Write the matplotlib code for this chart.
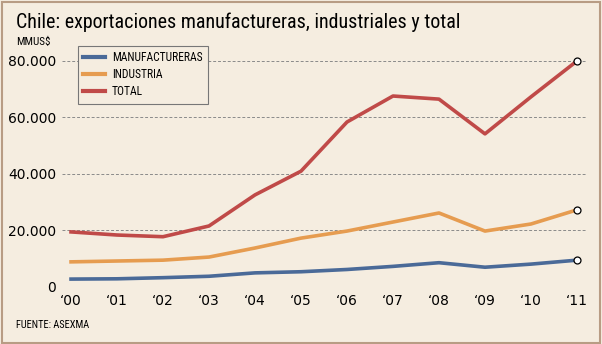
import matplotlib.pyplot as plt
from matplotlib.patches import Rectangle

years = ["\u201800", "\u201801", "\u201802", "\u201803", "\u201804", "\u201805",
         "\u201806", "\u201807", "\u201808", "\u201809", "\u201810", "\u201811"]
manufactureras = [2800, 2900, 3300, 3800, 5000, 5400, 6200, 7300, 8600, 7000, 8100, 9500]
industria = [8900, 9200, 9500, 10600, 13800, 17300, 19800, 23000, 26200, 19800, 22300, 27300]
total = [19500, 18400, 17800, 21600, 32600, 41000, 58400, 67600, 66500, 54200, 67300, 80000]
yticks = [0, 20000, 40000, 60000, 80000]
ylabels = ['0', '20.000', '40.000', '60.000', '80.000']

bg = '#f5ede0'
narrow = ['Liberation Sans Narrow', 'Roboto Condensed', 'Liberation Sans']

fig = plt.figure(figsize=(6.02, 3.44), dpi=100, facecolor=bg)
fig.patches.append(Rectangle((0.003, 0.004), 0.993, 0.99, transform=fig.transFigure,
                             fill=False, edgecolor='#b89c84', lw=1.5))

ax = fig.add_axes([0.1027, 0.1657, 0.871, 0.657])
ax.set_facecolor(bg)
x = list(range(len(years)))

series = [(manufactureras, '#4a6a98', 'MANUFACTURERAS'),
          (industria, '#e69c50', 'INDUSTRIA'),
          (total, '#c04a48', 'TOTAL')]
for vals, col, lab in series:
    ax.plot(x, vals, color=col, lw=2.6, label=lab, clip_on=False, zorder=3)
    ax.plot(x[-1], vals[-1], 'o', ms=5, mfc='white', mec='black', mew=0.9,
            clip_on=False, zorder=4)

ax.set_xlim(-0.2, 11.2)
ax.set_ylim(0, 80000)
ax.set_yticks(yticks)
ax.set_yticklabels(ylabels)
ax.set_xticks(x)
ax.set_xticklabels(years)
ax.grid(axis='y', color='#8a8a8a', ls=(0, (3, 2)), lw=0.7)
ax.tick_params(length=0, labelsize=10, pad=4, colors='black')
ax.tick_params(axis='x', pad=5)
for s in ax.spines.values():
    s.set_visible(False)

leg = ax.legend(loc='upper left', bbox_to_anchor=(0.031, 1.066), borderaxespad=0,
                frameon=True, fancybox=False, edgecolor='#777777', facecolor=bg,
                framealpha=1, prop={'family': narrow, 'size': 8.3},
                handlelength=1.9, handletextpad=0.6, labelspacing=0.35, borderpad=0.45)
leg.get_frame().set_linewidth(0.8)
for line in leg.get_lines():
    line.set_linewidth(3)

fig.text(0.027, 0.936, 'Chile: exportaciones manufactureras, industriales y total',
         fontsize=14.4, family=narrow, va='center', ha='left')
fig.text(0.027, 0.877, 'MMUS$', fontsize=8, family=narrow, va='center')
fig.text(0.027, 0.054, 'FUENTE: ASEXMA', fontsize=7.5, family=narrow, va='center')

fig.savefig('out.png', dpi=100, facecolor=bg)
